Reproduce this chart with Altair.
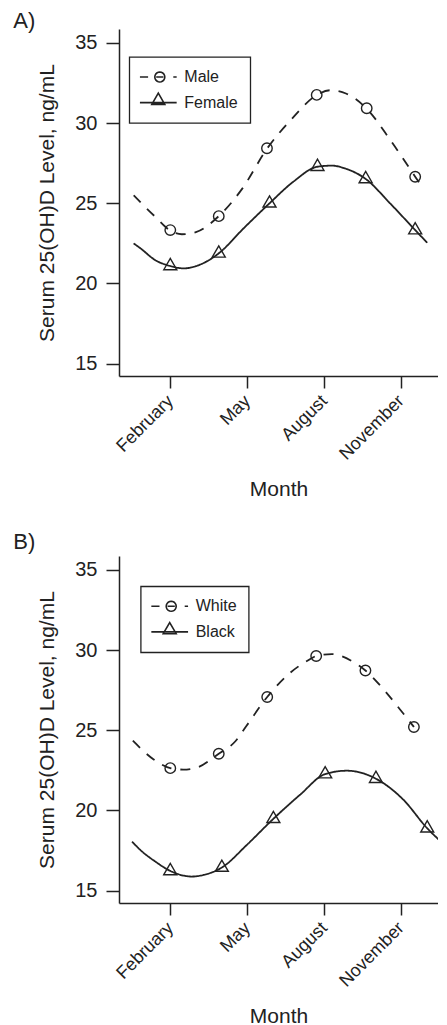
import math
import altair as alt
import pandas as pd

FONT = "Liberation Sans"
INK = "#222222"

# ---- axis ticks ----
month_ticks = [2, 5, 8, 11]
month_names = ["February", "May", "August", "November"]
y_ticks = [15, 20, 25, 30, 35]

# ---- Panel A: sex ----
male_curve_x = [0.57, 1.0, 1.42, 2.0, 2.45, 3.0, 3.89, 4.8, 5.77, 6.7, 7.71, 8.23, 8.85, 9.66, 10.6, 11.55, 11.87]
male_curve_y = [25.5, 24.8, 24.15, 23.3, 23.07, 23.2, 24.2, 25.9, 28.4, 30.2, 31.75, 32.05, 31.85, 30.9, 28.9, 26.66, 25.9]
male_pts_x = [2.0, 3.89, 5.77, 7.71, 9.66, 11.55]
male_pts_y = [23.33, 24.2, 28.43, 31.76, 30.93, 26.66]

female_curve_x = [0.57, 0.83, 1.42, 2.0, 2.52, 3.0, 3.89, 4.86, 5.87, 6.8, 7.74, 8.3, 8.8, 9.62, 10.57, 11.55, 12.02]
female_curve_y = [22.5, 22.2, 21.45, 21.09, 20.94, 21.08, 21.88, 23.44, 25.0, 26.35, 27.28, 27.35, 27.18, 26.52, 25.0, 23.33, 22.54]
female_pts_x = [2.0, 3.89, 5.87, 7.74, 9.62, 11.55]
female_pts_y = [21.09, 21.88, 25.0, 27.28, 26.52, 23.33]

# ---- Panel B: race ----
white_curve_x = [0.54, 1.34, 2.0, 2.5, 2.97, 3.89, 4.53, 4.96, 5.78, 6.67, 7.38, 7.69, 8.3, 9.1, 9.61, 10.4, 10.96, 11.5]
white_curve_y = [24.35, 23.2, 22.64, 22.55, 22.64, 23.54, 24.3, 25.25, 27.08, 28.58, 29.37, 29.63, 29.75, 29.3, 28.73, 27.4, 26.3, 25.21]
white_pts_x = [2.0, 3.89, 5.78, 7.69, 9.61, 11.5]
white_pts_y = [22.64, 23.54, 27.08, 29.63, 28.73, 25.21]

black_curve_x = [0.51, 0.83, 1.42, 2.0, 2.84, 3.3, 4.01, 4.99, 6.02, 7.06, 8.04, 8.88, 10.02, 11.09, 12.02, 12.58]
black_curve_y = [18.06, 17.54, 16.81, 16.23, 15.88, 15.98, 16.44, 17.86, 19.48, 20.98, 22.27, 22.48, 21.98, 20.67, 18.89, 18.02]
black_pts_x = [2.0, 4.01, 6.02, 8.04, 10.02, 12.02]
black_pts_y = [16.23, 16.44, 19.48, 22.27, 21.98, 18.89]

W, H = 319, 347
X_DOMAIN = [0, 12.44]
Y_DOMAIN = [14.23, 35.87]

# marker / legend-key glyphs (unit-box SVG paths)
TRI = "M-1.24,0.716L0,-1.432L1.24,0.716Z"
_r, _cx = 0.833, 0.25
_ring = "M" + "L".join(
    f"{_cx + _r * math.cos(2 * math.pi * k / 20):.3f},{_r * math.sin(2 * math.pi * k / 20):.3f}"
    for k in range(20)
) + "Z"
LEG_CIRCLE = "M-3.06,0L-1.7,0" + _ring + "M-0.35,0L0.85,0M2.5,0L3.06,0"
LEG_TRI = "M-3.06,0L3.06,0M-1.08,0.3L0,-1.57L1.08,0.3Z"

label_expr = " : ".join(
    f"datum.value == {v} ? '{n}'" for v, n in zip(month_ticks, month_names)
) + " : ''"


def panel(tag, g1, g2, c1x, c1y, p1x, p1y, c2x, c2y, p2x, p2y, leg_x, leg_y, tag_y, title_y):
    curves = pd.DataFrame({
        "month": c1x + c2x,
        "level": c1y + c2y,
        "group": [g1] * len(c1x) + [g2] * len(c2x),
    })
    points = pd.DataFrame({
        "month": p1x + p2x,
        "level": p1y + p2y,
        "group": [g1] * len(p1x) + [g2] * len(p2x),
    })
    x = alt.X("month:Q", scale=alt.Scale(domain=X_DOMAIN, nice=False, zero=False),
              axis=alt.Axis(values=month_ticks, labelExpr=label_expr, labelAngle=-45,
                            labelAlign="right", labelBaseline="middle", labelFontSize=18,
                            labelPadding=10, tickSize=12, grid=False, title="Month",
                            titleFontSize=21, titleBaseline="top", titleY=title_y))
    y = alt.Y("level:Q", scale=alt.Scale(domain=Y_DOMAIN, nice=False, zero=False),
              axis=alt.Axis(values=y_ticks, tickSize=13, labelPadding=9, labelFontSize=20,
                            grid=False, title="Serum 25(OH)D Level, ng/mL", titleFontSize=21,
                            titleAngle=270, titleBaseline="alphabetic", titleX=-65.7,
                            titleY=H / 2, titleAlign="center"))
    lines = alt.Chart(curves).mark_line(
        color=INK, strokeWidth=1.8, interpolate="monotone", clip=True
    ).encode(
        x=x, y=y,
        strokeDash=alt.StrokeDash("group:N", scale=alt.Scale(domain=[g1, g2], range=[[10, 9], [1, 0]]),
                                  legend=None),
    )
    pts = alt.Chart(points).mark_point(
        color=INK, filled=False, size=110, strokeWidth=1.4, opacity=1
    ).encode(
        x=x, y=y,
        shape=alt.Shape("group:N", scale=alt.Scale(domain=[g1, g2], range=["circle", TRI]),
                        legend=None),
    )
    key = alt.Chart(pd.DataFrame({"series": [g1, g2]})).mark_point(
        color=INK, filled=False, size=0, strokeWidth=1.6, opacity=1
    ).encode(
        shape=alt.Shape("series:N", scale=alt.Scale(domain=[g1, g2], range=[LEG_CIRCLE, LEG_TRI]),
                        legend=alt.Legend(title=None, orient="none", legendX=leg_x, legendY=leg_y,
                                          symbolSize=144, symbolStrokeWidth=1.6, symbolOpacity=1,
                                          symbolFillColor="transparent", symbolStrokeColor=INK)),
    )
    tag_layer = alt.Chart(pd.DataFrame({"tag": [tag]})).mark_text(
        align="left", baseline="top", fontSize=22, font=FONT, color=INK
    ).encode(text="tag:N", x=alt.value(-105.7), y=alt.value(tag_y))
    return alt.layer(lines, pts, key, tag_layer).resolve_scale(
        shape="independent"
    ).properties(width=W, height=H)


top = panel("A)", "Male", "Female", male_curve_x, male_curve_y, male_pts_x, male_pts_y,
            female_curve_x, female_curve_y, female_pts_x, female_pts_y, 10.3, 28, -18, 102)
bottom = panel("B)", "White", "Black", white_curve_x, white_curve_y, white_pts_x, white_pts_y,
               black_curve_x, black_curve_y, black_pts_x, black_pts_y, 21.7, 30.3, -23.8, 102)

chart = alt.vconcat(top, bottom, spacing=32).properties(
    padding={"left": 5, "top": 2, "right": 0, "bottom": 0}
).resolve_scale(
    shape="independent", strokeDash="independent"
).configure(
    font=FONT
).configure_view(stroke=None).configure_axis(
    domainColor=INK, tickColor=INK, domainWidth=1.5, tickWidth=1.5,
    labelColor=INK, titleColor=INK, labelFont=FONT, titleFont=FONT,
    titleFontWeight="normal"
).configure_legend(
    padding=12, strokeColor=INK, strokeWidth=1.3, fillColor="white",
    labelFont=FONT, labelFontSize=16, labelColor=INK, rowPadding=3.6,
    symbolOffset=9, labelOffset=18
)

chart.save("out.html", embed_options={"renderer": "svg", "actions": False})
